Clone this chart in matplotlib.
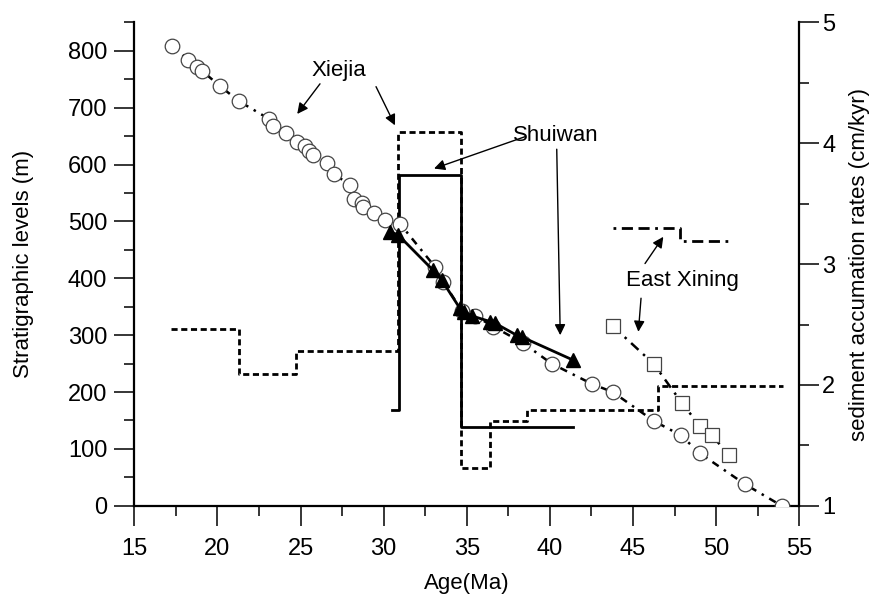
import matplotlib
matplotlib.use("Agg")
import matplotlib.pyplot as plt
from matplotlib.ticker import MultipleLocator

plt.rcParams['font.family'] = ['Liberation Sans', 'DejaVu Sans']

# Xiejia magnetostratigraphy (age Ma, level m)
xiejia_age = [17.29, 18.25, 18.75, 19.07, 20.15, 21.32, 23.12, 23.36, 24.11, 24.80,
              25.27, 25.51, 25.73, 26.57, 27.03, 27.97, 28.23, 28.68, 28.77, 29.42,
              30.08, 30.98, 33.09, 33.58, 34.7, 35.5, 36.6, 38.4, 40.1, 42.55,
              43.78, 46.26, 47.87, 49.03, 51.73, 53.94]
xiejia_lvl = [809, 784, 772, 765, 738, 711, 680, 667, 655, 639,
              632, 624, 617, 603, 583, 564, 540, 533, 526, 514,
              503, 496, 420, 394, 343, 334, 315, 286, 250, 214,
              200, 149, 124, 92, 38, 0]

# Shuiwan (age Ma, level m)
shuiwan_age = [30.38, 30.88, 32.98, 33.49, 34.59, 34.83, 35.29, 36.40, 36.70, 38.00, 38.30, 41.41]
shuiwan_lvl = [482, 476, 414, 397, 347, 341, 334, 324, 321, 300, 297, 256]

# East Xining (age Ma, level m)
exining_age = [43.78, 46.26, 47.93, 49.03, 49.73, 50.79]
exining_lvl = [316, 249, 181, 140, 124, 89]

# Sediment accumulation rates (step boundaries in Ma, rates in cm/kyr)
xiejia_rate_age = [17.2, 21.3, 24.7, 30.85, 34.65, 36.4, 38.6, 46.5, 54.0]
xiejia_rate = [2.46, 2.09, 2.28, 4.09, 1.31, 1.70, 1.79, 1.99]
shuiwan_rate_age = [30.5, 30.93, 34.65, 41.4]
shuiwan_rate = [1.79, 3.74, 1.65]
exining_rate_age = [43.8, 47.8, 50.8]
exining_rate = [3.30, 3.19]

xticks = [15, 20, 25, 30, 35, 40, 45, 50, 55]
yticks_left = [0, 100, 200, 300, 400, 500, 600, 700, 800]
yticks_right = [1, 2, 3, 4, 5]

W, H = 878, 599
TICK_FS = 17
LAB_FS = 16
ANN_FS = 16
fig = plt.figure(figsize=(W / 100, H / 100), dpi=100)
L, R, B, T = 134.3, 799.3, 505.8, 22.4
ax = fig.add_axes([L / W, 1 - B / H, (R - L) / W, (B - T) / H])
ax2 = ax.twinx()

ax.set_xlim(15, 55)
ax.set_ylim(0, 850)
ax2.set_ylim(1, 5)

# rate step lines on right axis
ax2.plot(xiejia_rate_age, xiejia_rate + [xiejia_rate[-1]], drawstyle='steps-post',
         color='black', lw=2.0, linestyle=(0, (2.2, 1.3)), zorder=2)
ax2.plot(shuiwan_rate_age, shuiwan_rate + [shuiwan_rate[-1]], drawstyle='steps-post',
         color='black', lw=2.0, linestyle='-', zorder=2)
ax2.plot(exining_rate_age, exining_rate + [exining_rate[-1]], drawstyle='steps-post',
         color='black', lw=2.0, linestyle=(0, (1, 2, 4, 2, 4, 2)), zorder=2)

# age-depth series
ax2.set_zorder(1)
ax.set_zorder(2)
ax.patch.set_visible(False)
ax.plot(xiejia_age, xiejia_lvl, color='black', lw=1.8, linestyle=(0, (3, 2.5, 1, 2.5)),
        marker='o', ms=10.5, mfc='white', mec='#444444', mew=0.9, zorder=3)
ax.plot(exining_age, exining_lvl, color='black', lw=1.8, linestyle=(0, (4, 2.5, 1, 2.5)),
        marker='s', ms=10, mfc='white', mec='#444444', mew=0.9, zorder=3)
ax.plot(shuiwan_age, shuiwan_lvl, color='black', lw=2.0, linestyle='-',
        marker='^', ms=10, mfc='black', mec='black', zorder=4)

# annotations
ap = dict(arrowstyle='-|>', color='black', lw=1.0, mutation_scale=16, shrinkA=0, shrinkB=0)
ax.text(27.3, 766, 'Xiejia', fontsize=ANN_FS, ha='center', va='center')
ax.annotate('', xy=(24.80, 689), xytext=(26.17, 742), arrowprops=ap)
ax.annotate('', xy=(30.68, 669), xytext=(29.54, 737), arrowprops=ap)
ax.text(40.35, 652, 'Shuiwan', fontsize=ANN_FS, ha='center', va='center')
ax.annotate('', xy=(33.03, 593), xytext=(38.5, 649), arrowprops=ap)
ax.annotate('', xy=(40.62, 300), xytext=(40.41, 627), arrowprops=ap)
ax.text(47.99, 396, 'East Xining', fontsize=ANN_FS, ha='center', va='center')
ax.annotate('', xy=(46.82, 473), xytext=(45.72, 426), arrowprops=ap)
ax.annotate('', xy=(45.32, 306), xytext=(45.48, 365), arrowprops=ap)

# axes styling
for a in (ax, ax2):
    a.spines['top'].set_visible(False)
    for s in a.spines.values():
        s.set_linewidth(1.6)
ax.spines['right'].set_visible(False)
ax2.spines['left'].set_visible(False)
ax2.spines['bottom'].set_visible(False)

ax.set_xticks(xticks)
ax.set_yticks(yticks_left)
ax2.set_yticks(yticks_right)
ax.xaxis.set_minor_locator(MultipleLocator(2.5))
ax.yaxis.set_minor_locator(MultipleLocator(50))
ax2.yaxis.set_minor_locator(MultipleLocator(0.5))
for a in (ax, ax2):
    a.tick_params(which='major', direction='out', length=14.5, width=1.1, labelsize=TICK_FS)
    a.tick_params(which='minor', direction='out', length=7.5, width=1.1)
ax.tick_params(axis='x', pad=9)
ax.tick_params(axis='y', pad=5)
ax2.tick_params(axis='y', pad=2)

# axis titles
fig.text((L + R) / 2 / W, 1 - 589 / H, 'Age(Ma)', fontsize=LAB_FS, ha='center', va='baseline')
fig.text(24 / W, 1 - (T + B) / 2 / H, 'Stratigraphic levels (m)', fontsize=LAB_FS,
         rotation=90, ha='center', va='center')
fig.text(860 / W, 1 - (T + B) / 2 / H, 'sediment accumation rates (cm/kyr)', fontsize=LAB_FS,
         rotation=90, ha='center', va='center')

fig.savefig('out.png', dpi=100)
